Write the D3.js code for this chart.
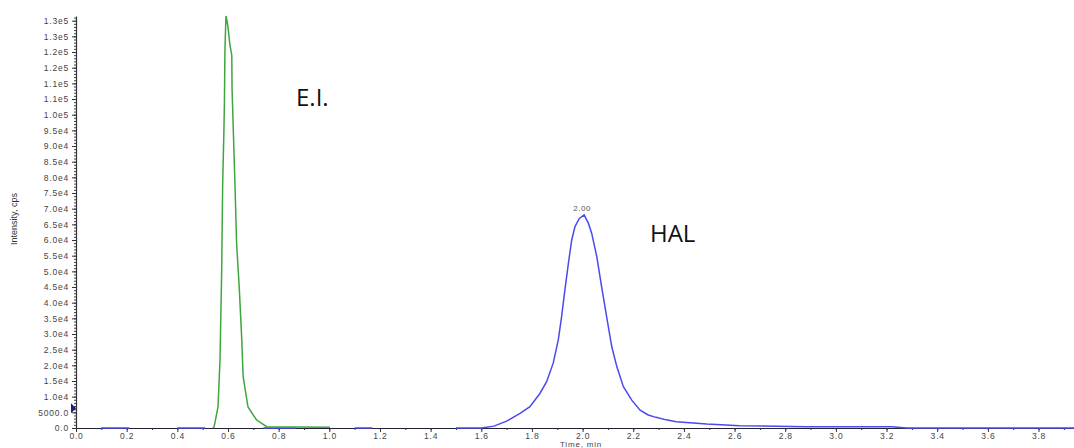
<!DOCTYPE html>
<html lang="en">
<head>
<meta charset="utf-8">
<title>Chromatogram</title>
<script src="https://d3js.org/d3.v7.min.js"></script>
<style>
  html, body { margin: 0; padding: 0; background: #fff; }
  svg { display: block; }
  .tick text { font-family: "Liberation Sans", Arial, sans-serif; font-size: 8.5px; letter-spacing: 0.8px; fill: #444; }
  .note { font-family: "Open Sans", "Noto Sans", sans-serif; font-size: 24px; fill: #111; }
</style>
</head>
<body>
<svg width="1074" height="448"></svg>
<script>
// green trace (E.I.)
const greenTime = [0.540, 0.545, 0.5606, 0.5685, 0.575, 0.579, 0.584, 0.586, 0.588, 0.592,
                   0.596, 0.600, 0.608, 0.615, 0.616, 0.621, 0.628, 0.634, 0.645, 0.654,
                   0.660, 0.679, 0.713, 0.753, 0.884, 1.003];
const greenValue = [0, 300, 6700, 21700, 49500, 77600, 95100, 104000, 120700, 131500,
                    130000, 128000, 122000, 119000, 108500, 95100, 76600, 59000, 44000, 29000,
                    16300, 6700, 2550, 400, 300, 200];

// blue trace (HAL), null = gap
const blueTime = [0.10, 0.21, 0.215, 0.40, 0.51, 0.515, 0.74, 0.87, 0.875, 1.10, 1.17, 1.175,
                  1.50, 1.60, 1.65, 1.70, 1.753, 1.792, 1.832, 1.858, 1.884, 1.904, 1.917,
                  1.930, 1.944, 1.957, 1.970, 1.987, 2.006, 2.023, 2.036, 2.056, 2.075,
                  2.095, 2.115, 2.135, 2.161, 2.194, 2.227, 2.259, 2.29, 2.33, 2.37,
                  2.49, 2.62, 2.88, 3.22, 3.28, 3.94];
const blueValue = [0, 0, null, 0, 0, null, 0, 0, null, 0, 0, null,
                   0, 0, 600, 2200, 4700, 6800, 11100, 14800, 20700, 28100, 35500,
                   44000, 52600, 60000, 64300, 66900, 68000, 65300, 62100, 54700, 45100,
                   35500, 26000, 19600, 13200, 8900, 5700, 4150, 3400, 2600, 2000,
                   1270, 730, 410, 400, 0, 0];

const yTicks = d3.range(0, 130001, 5000);
const yMinor = d3.range(0, 131001, 1000);
const xTicks = d3.range(0, 3.81, 0.2);
const xMinor = d3.range(0, 3.95, 0.1);
const apexLabel = {t: 2.006, v: 68000, text: "2.00"};
const markerLevel = 6300;

const svg = d3.select("svg");
const x = d3.scaleLinear().domain([0, 3.94]).range([76, 1074]);
const y = d3.scaleLinear().domain([0, 131500]).range([428, 16]);

function yFmt(v) {
  if (v === 0) return "0.0";
  if (v < 10000) return v.toFixed(1);
  return v.toExponential(1).replace("+", "");
}

// y axis
svg.append("g")
   .attr("transform", "translate(76,0)")
   .call(d3.axisLeft(y).tickValues(yMinor).tickSize(2).tickFormat(""))
   .call(g => g.select(".domain").remove())
   .selectAll("line").attr("stroke", "#444");
const ya = svg.append("g")
   .attr("transform", "translate(76,0)")
   .call(d3.axisLeft(y).tickValues(yTicks).tickSize(4).tickPadding(3).tickFormat(yFmt).tickSizeOuter(0));
ya.select(".domain").attr("stroke", "#333").attr("stroke-width", 1.2);
ya.selectAll("line").attr("stroke", "#333");

// x axis
svg.append("g")
   .attr("transform", "translate(0,428)")
   .call(d3.axisBottom(x).tickValues(xMinor).tickSize(2).tickFormat(""))
   .call(g => g.select(".domain").remove())
   .selectAll("line").attr("stroke", "#333");
const xa = svg.append("g")
   .attr("transform", "translate(0,428)")
   .call(d3.axisBottom(x).tickValues(xTicks).tickSize(4).tickPadding(1).tickFormat(d3.format(".1f")).tickSizeOuter(0));
xa.select(".domain").attr("stroke", "#223").attr("stroke-width", 1.2);
xa.selectAll("line").attr("stroke", "#333");

// axis titles
svg.append("text")
   .attr("transform", "translate(17,219) rotate(-90)")
   .attr("text-anchor", "middle")
   .style("font-family", "Liberation Sans, Arial, sans-serif")
   .style("font-size", "9px")
   .attr("fill", "#333")
   .text("Intensity, cps");
svg.append("text")
   .attr("x", 581).attr("y", 447)
   .attr("text-anchor", "middle")
   .style("font-family", "Liberation Sans, Arial, sans-serif")
   .style("font-size", "8px")
   .style("letter-spacing", "0.8px")
   .attr("fill", "#444")
   .text("Time, min");

// traces
const line = d3.line()
   .defined(d => d[1] !== null)
   .x(d => x(d[0]))
   .y(d => y(d[1]));

svg.append("path")
   .datum(blueTime.map((t, i) => [t, blueValue[i]]))
   .attr("d", line)
   .attr("fill", "none")
   .attr("stroke", "#4a4aee")
   .attr("stroke-width", 1.5);

svg.append("path")
   .datum(greenTime.map((t, i) => [t, greenValue[i]]))
   .attr("d", line)
   .attr("fill", "none")
   .attr("stroke", "#3fa63f")
   .attr("stroke-width", 1.5);

// apex label
svg.append("text")
   .attr("x", x(apexLabel.t) - 2).attr("y", y(apexLabel.v) - 4)
   .attr("text-anchor", "middle")
   .style("font-family", "Liberation Sans, Arial, sans-serif")
   .style("font-size", "8px")
   .style("letter-spacing", "0.5px")
   .attr("fill", "#555")
   .text(apexLabel.text);

// threshold marker
const my = y(markerLevel);
svg.append("path")
   .attr("d", `M71,${my - 5}L76,${my}L71,${my + 5}Z`)
   .attr("fill", "#1a1a8a");

// peak names
svg.append("text").attr("class", "note").attr("x", 296).attr("y", 106).text("E.I.");
svg.append("text").attr("class", "note").attr("x", 650).attr("y", 242).text("HAL");
</script>
</body>
</html>
